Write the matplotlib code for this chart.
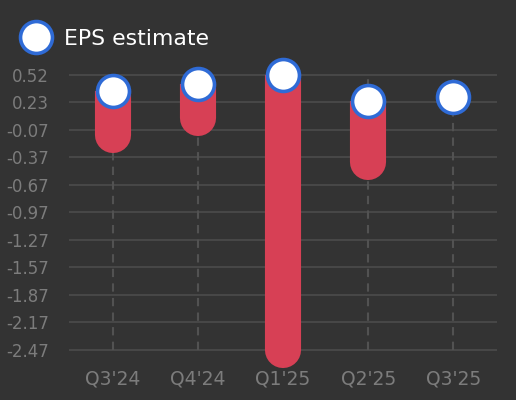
import numpy as np
import matplotlib
matplotlib.use("Agg")
import matplotlib.pyplot as plt
from matplotlib.lines import Line2D
from matplotlib.patches import Rectangle

quarters = ["Q3'24", "Q4'24", "Q1'25", "Q2'25", "Q3'25"]
eps_estimate = [0.35, 0.42, 0.52, 0.24, 0.28]
eps_actual = [-0.13, 0.05, -2.47, -0.43, np.nan]
ytick_labels = ["-2.47", "-2.17", "-1.87", "-1.57", "-1.27", "-0.97",
                "-0.67", "-0.37", "-0.07", "0.23", "0.52"]

bg = "#333333"
red = "#d74055"
blue = "#2f6bd6"
grid_col = "#474747"
text_col = "#7c7c7c"

fig = plt.figure(figsize=(5.16, 4.0), dpi=100, facecolor=bg)
ax = fig.add_axes([70 / 516, 0.125, 426 / 516, 0.725])
ax.set_facecolor(bg)

x = np.arange(len(quarters))
y_lo, y_hi = -2.47, 0.52
ticks = np.linspace(y_lo, y_hi, len(ytick_labels))

# horizontal grid + dashed verticals
for t in ticks:
    ax.axhline(t, color=grid_col, lw=1.5, zorder=1, clip_on=False)
ax.vlines(x, y_lo, y_hi, colors="#525252", lw=1.5,
          linestyles=(0, (4, 3)), zorder=1.5)

# estimate -> actual bars, rounded only at the actual end
for xi, est, act in zip(x, eps_estimate, eps_actual):
    if np.isnan(act):
        continue
    ln, = ax.plot([xi, xi], [est, act], color=red, lw=26,
                  solid_capstyle="round", zorder=2)
    # cut off the cap above the estimate
    clip = Rectangle((xi - 0.5, act - 1), 1, est - act + 1,
                     transform=ax.transData)
    ln.set_clip_path(clip)

ax.plot(x, eps_estimate, ls="none", marker="o", ms=23, mfc="white",
        mec=blue, mew=2.6, zorder=3, clip_on=False)

ax.set_xlim(-0.5, len(quarters) - 0.5)
ax.set_ylim(y_lo, y_hi + 0.163)
ax.set_yticks(ticks)
ax.set_yticklabels(ytick_labels)
ax.set_xticks(x)
ax.set_xticklabels(quarters)
ax.tick_params(axis="y", length=0, pad=15, labelsize=12, colors=text_col)
ax.tick_params(axis="x", length=0, pad=14, labelsize=13.5, colors=text_col)
for s in ax.spines.values():
    s.set_visible(False)

handle = Line2D([], [], ls="none", marker="o", ms=23, mfc="white",
                mec=blue, mew=2.6)
fig.legend([handle], ["EPS estimate"], loc="upper left",
           bbox_to_anchor=(-0.012, 0.978), frameon=False, fontsize=15.8,
           labelcolor="white", handletextpad=0.3, borderaxespad=0.5)

fig.savefig("out.png", dpi=100, facecolor=bg)
